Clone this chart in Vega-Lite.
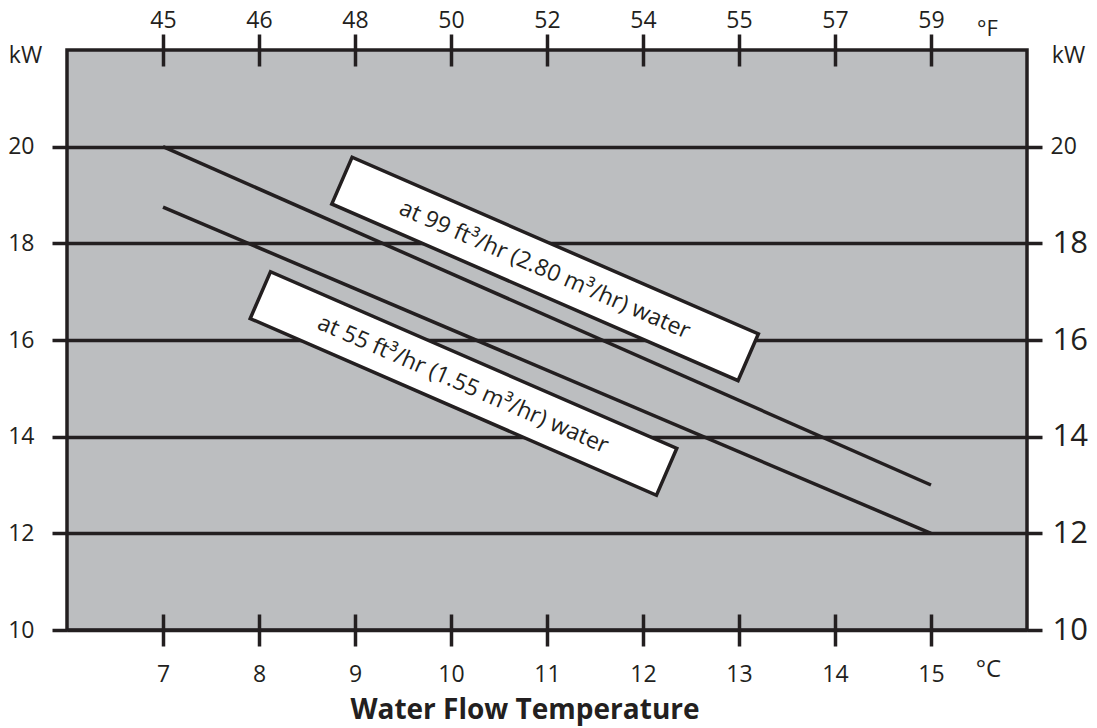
{
  "$schema": "https://vega.github.io/schema/vega-lite/v6.json",
  "width": 960,
  "height": 580,
  "autosize": {"type": "none"},
  "padding": {"left": 67, "top": 50, "right": 70, "bottom": 98},
  "background": "white",
  "config": {
    "font": "Open Sans",
    "view": {"fill": "#bcbec0", "stroke": "#231f20", "strokeWidth": 3.5},
    "axis": {
      "labelColor": "#231f20",
      "labelFont": "Open Sans",
      "tickColor": "#231f20",
      "tickWidth": 3.5,
      "titleColor": "#231f20",
      "titleFont": "Open Sans",
      "titleFontWeight": "normal",
      "domain": false
    }
  },
  "title": {
    "text": "Water Flow Temperature",
    "orient": "bottom",
    "anchor": "middle",
    "font": "Open Sans",
    "fontSize": 28,
    "fontWeight": "bold",
    "color": "#231f20",
    "dx": -22,
    "offset": 11
  },
  "resolve": {"axis": {"x": "independent", "y": "independent"}},
  "layer": [
    {
      "data": {
        "values": [
          {"flow": "99", "t": 7, "kw": 20},
          {"flow": "99", "t": 15, "kw": 13},
          {"flow": "55", "t": 7, "kw": 18.75},
          {"flow": "55", "t": 15, "kw": 12}
        ]
      },
      "mark": {"type": "line", "color": "#231f20", "strokeWidth": 3.5, "clip": false},
      "encoding": {
        "x": {
          "field": "t",
          "type": "quantitative",
          "scale": {"domain": [6, 16], "nice": false, "zero": false},
          "axis": {
            "orient": "bottom",
            "values": [7, 8, 9, 10, 11, 12, 13, 14, 15],
            "offset": -16,
            "tickSize": 32,
            "labelFontSize": 23,
            "labelPadding": 17,
            "labelFlush": false,
            "grid": false,
            "title": "°C",
            "titleFontSize": 24,
            "titleX": 921,
            "titleY": 55,
            "titleAlign": "center",
            "titleBaseline": "middle",
            "titleAngle": 0
          }
        },
        "y": {
          "field": "kw",
          "type": "quantitative",
          "scale": {"domain": [10, 22], "nice": false, "zero": false},
          "axis": {
            "orient": "left",
            "values": [10, 12, 14, 16, 18, 20],
            "tickSize": 15,
            "labelFontSize": 23,
            "labelPadding": 18,
            "grid": true,
            "gridColor": "#231f20",
            "gridWidth": 3.5,
            "gridOpacity": 1,
            "title": "kW",
            "titleFontSize": 23,
            "titleAngle": 0,
            "titleX": -42,
            "titleY": 5,
            "titleAlign": "center",
            "titleBaseline": "middle"
          }
        },
        "detail": {"field": "flow"}
      }
    },
    {
      "data": {
        "values": [
          {"label": "at 99 ft³/hr (2.80 m³/hr) water", "t": 10.98, "kw": 17.47},
          {"label": "at 55 ft³/hr (1.55 m³/hr) water", "t": 10.13, "kw": 15.10}
        ]
      },
      "mark": {
        "type": "point",
        "shape": "M-1,-0.115L1,-0.115L1,0.115L-1,0.115Z",
        "size": 196249,
        "angle": 23.5,
        "filled": true,
        "fill": "white",
        "stroke": "#231f20",
        "strokeWidth": 3.5,
        "opacity": 1,
        "fillOpacity": 1
      },
      "encoding": {
        "x": {
          "field": "t",
          "type": "quantitative",
          "axis": {
            "orient": "top",
            "values": [7, 8, 9, 10, 11, 12, 13, 14, 15],
            "labelExpr": "'' + round(datum.value * 1.8 + 32)",
            "offset": -16,
            "tickSize": 32,
            "labelFontSize": 23,
            "labelPadding": 7,
            "labelBaseline": "alphabetic",
            "labelFlush": false,
            "grid": false,
            "title": "°F",
            "titleFontSize": 22,
            "titleX": 920,
            "titleY": -31,
            "titleAlign": "center",
            "titleBaseline": "alphabetic",
            "titleAngle": 0
          }
        },
        "y": {
          "field": "kw",
          "type": "quantitative",
          "axis": {
            "orient": "right",
            "values": [10, 12, 14, 16, 18, 20],
            "tickSize": 15,
            "labelFontSize": {"condition": {"test": "datum.value == 20", "value": 23}, "value": 31},
            "labelPadding": {"condition": {"test": "datum.value == 20", "value": 8}, "value": 10},
            "grid": false,
            "title": "kW",
            "titleFontSize": 23,
            "titleAngle": 0,
            "titleX": 41,
            "titleY": 5,
            "titleAlign": "center",
            "titleBaseline": "middle"
          }
        }
      }
    },
    {
      "data": {
        "values": [
          {"label": "at 99 ft³/hr (2.80 m³/hr) water", "t": 10.98, "kw": 17.47},
          {"label": "at 55 ft³/hr (1.55 m³/hr) water", "t": 10.13, "kw": 15.10}
        ]
      },
      "mark": {
        "type": "text",
        "angle": 23.5,
        "font": "Open Sans",
        "fontSize": 23,
        "color": "#231f20",
        "align": "center",
        "baseline": "middle",
        "dy": 1
      },
      "encoding": {
        "x": {"field": "t", "type": "quantitative", "axis": null},
        "y": {"field": "kw", "type": "quantitative", "axis": null},
        "text": {"field": "label"}
      }
    }
  ]
}
